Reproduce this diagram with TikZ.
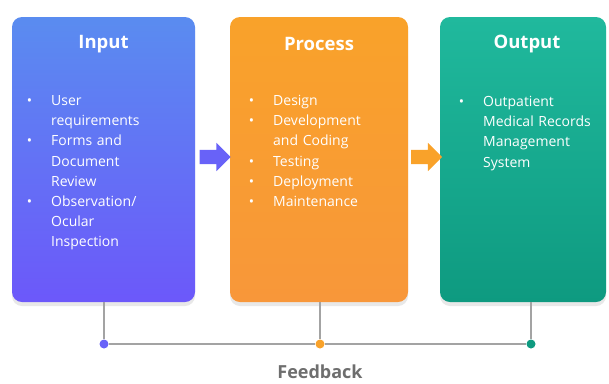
\documentclass[tikz,border=0pt]{standalone}
\usepackage{fontspec}
\setmainfont{Open Sans}
\usetikzlibrary{shapes,arrows,positioning,calc,shadows}

\definecolor{inTop}{HTML}{5A8CF0}
\definecolor{inBot}{HTML}{6C58FA}
\definecolor{procTop}{HTML}{F9A22A}
\definecolor{procBot}{HTML}{F8973A}
\definecolor{outTop}{HTML}{20B99D}
\definecolor{outBot}{HTML}{0E9A80}
\definecolor{lineGray}{HTML}{A3A3A3}
\definecolor{textGray}{HTML}{6E6E6E}

\newenvironment{bullets}{\begin{list}{\textbullet}{\setlength{\leftmargin}{30pt}\setlength{\labelsep}{19pt}\setlength{\labelwidth}{10pt}\setlength{\itemsep}{0pt}\setlength{\parsep}{0pt}\setlength{\topsep}{0pt}\setlength{\partopsep}{0pt}}}{\end{list}}

\begin{document}
\begin{tikzpicture}[
    x=1pt, y=-1pt,
    panel/.style={rectangle, rounded corners=10pt, inner sep=0pt, minimum height=285pt, drop shadow={opacity=0.18, shadow xshift=0pt, shadow yshift=-4pt}},
    title/.style={text=white, font=\fontsize{18.5}{20}\selectfont\bfseries},
    items/.style={text=white, inner sep=0pt, anchor=north west, align=left, font=\fontsize{14}{20.2}\selectfont},
    blockarrow/.style={single arrow, single arrow head extend=7pt, minimum height=31pt, inner sep=0pt},
    fbline/.style={draw=lineGray, line width=1.2pt},
    fbdot/.style={circle, inner sep=0pt, minimum size=9pt}
]
\useasboundingbox (0,0) rectangle (609,383);

% Panels
\node [panel, top color=inTop, bottom color=inBot, minimum width=183pt] (inputbox) at (103.5,159.5) {};
\node [panel, top color=procTop, bottom color=procBot, minimum width=178pt] (processbox) at (319,159.5) {};
\node [panel, top color=outTop, bottom color=outBot, minimum width=166pt] (outputbox) at (523,159.5) {};

% Titles
\node [title] (inputtitle) at (103.5,44) {Input};
\node [title] (processtitle) at (319,44) {Process};
\node [title] (outputtitle) at (527,44) {Output};

% Bullet lists
\node [items, text width=168pt] (inputlist) at (21,85) {\begin{bullets}
\item User\newline requirements
\item Forms and\newline Document\newline Review
\item Observation/\newline Ocular\newline Inspection
\end{bullets}};
\node [items, text width=163pt] (processlist) at (243,85) {\begin{bullets}
\item Design
\item Development\newline and Coding
\item Testing
\item Deployment
\item Maintenance
\end{bullets}};
\node [items, text width=152pt] (outputlist) at (453,86) {\begin{bullets}
\item Outpatient\newline Medical Records\newline Management\newline System
\end{bullets}};

% Arrows between panels
\node [blockarrow, fill=inBot!80!inTop] (arrowin) at (211.5,157) {\rule{0pt}{14pt}};
\node [blockarrow, fill=procTop] (arrowproc) at (423,157) {\rule{0pt}{14pt}};

% Feedback loop
\node [fbdot, fill=inBot!80!inTop] (dotin) at (104,344) {};
\node [fbdot, fill=procTop] (dotproc) at (320,344) {};
\node [fbdot, fill=outBot] (dotout) at (531,344) {};
\draw [fbline] (inputbox.south -| dotin) -- (dotin);
\draw [fbline] (processbox.south -| dotproc) -- (dotproc);
\draw [fbline] (outputbox.south -| dotout) -- (dotout);
\draw [fbline] (dotin) -- (dotproc);
\draw [fbline] (dotproc) -- (dotout);
\node [text=textGray, inner sep=0pt, font=\fontsize{18}{20}\selectfont\bfseries] (feedback) at (320,372) {Feedback};

\end{tikzpicture}
\end{document}
